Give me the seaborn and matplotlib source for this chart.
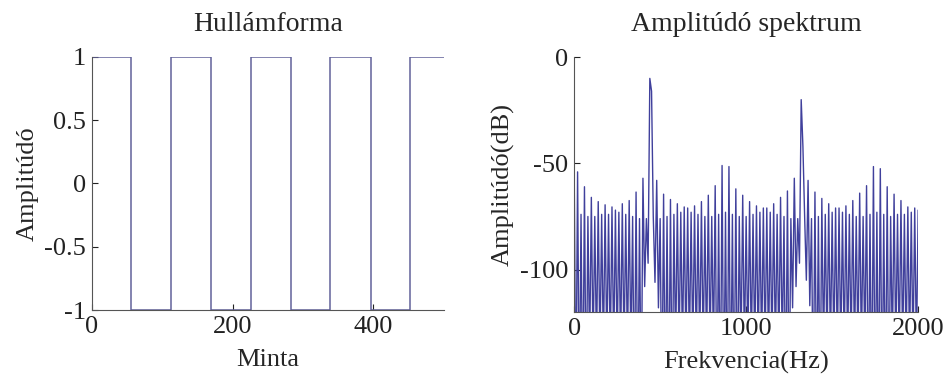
import numpy as np
import pandas as pd
import matplotlib
matplotlib.use("Agg")
import matplotlib.pyplot as plt
import seaborn as sns

# --- waveform: square wave, switching samples and levels
edge_samples = [0, 56, 112, 169, 226, 283, 339, 396, 452, 500]
levels = [1, -1, 1, -1, 1, -1, 1, -1, 1]

# --- spectrum: one spike per 20 Hz bin (0..2000 Hz), dB values
bin_hz = 20
spike_db = [
    -50, -54, -74, -61, -75, -66, -75, -68, -74, -69.5,
    -74, -70.5, -72, -73, -69, -74, -67.5, -75, -63.5, -76,
    -57, -76, -10, -75, -58, -76, -64.5, -75, -67, -74,
    -69, -73, -70.5, -71, -73, -70, -74, -68, -75, -65,
    -75, -60.5, -74, -51, -73, -51.5, -74, -62, -75, -65,
    -75, -68, -74, -70, -73, -71, -71, -73, -69, -74,
    -66, -75, -63, -76, -57, -76, -20, -75, -58, -76,
    -63.5, -75, -66.5, -74, -69, -73, -71, -71, -73, -70,
    -74, -67.5, -75, -64, -75, -60.5, -74, -51.5, -73, -52.5,
    -74, -61, -75, -64.5, -74, -67.5, -74, -70.5, -73, -71,
    -72,
]
# dips between neighbouring bins (at bin + 10 Hz); most fall far below the -120 floor
trough_db = [
    -170, -170, -170, -170, -140, -140, -140, -140, -140, -140,
    -140, -140, -140, -140, -140, -140, -140, -170, -170, -170,
    -108, -97, -16, -106, -118, -170, -170, -170, -170, -140,
    -140, -140, -140, -140, -140, -140, -140, -140, -140, -140,
    -140, -170, -170, -170, -170, -170, -170, -170, -140, -140,
    -140, -140, -140, -140, -140, -140, -140, -140, -140, -140,
    -140, -170, -170, -118, -108, -97, -42, -105, -117, -170,
    -170, -170, -140, -140, -140, -140, -140, -140, -140, -140,
    -140, -140, -140, -140, -140, -170, -170, -170, -170, -170,
    -170, -170, -140, -140, -140, -140, -140, -140, -140, -140,
]

# square wave as a stepped polyline
wave_x, wave_y = [], []
for i, lev in enumerate(levels):
    wave_x += [edge_samples[i], edge_samples[i + 1]]
    wave_y += [lev, lev]
wave = pd.DataFrame({"Minta": wave_x, "Amp": wave_y})

# interleave spikes and dips
spec_db = []
for i, s in enumerate(spike_db):
    spec_db.append(s)
    if i < len(trough_db):
        spec_db.append(trough_db[i])
spec = pd.DataFrame({"f": np.arange(len(spec_db)) * bin_hz / 2, "db": spec_db})

sns.set_style("ticks")
plt.rcParams["font.family"] = ["Liberation Serif", "DejaVu Serif"]
plt.rcParams["axes.unicode_minus"] = False
plt.rcParams["xtick.direction"] = "in"
plt.rcParams["ytick.direction"] = "in"

fig = plt.figure(figsize=(9.49, 3.76), dpi=100)
ax1 = fig.add_axes([0.0966, 0.1755, 0.371, 0.673])
ax2 = fig.add_axes([0.605, 0.170, 0.3625, 0.678])

fs = 19
sns.lineplot(data=wave, x="Minta", y="Amp", ax=ax1, sort=False, estimator=None,
             color="#62629a", linewidth=1.1)
ax1.set_xlim(0, 500)
ax1.set_ylim(-1, 1)
ax1.set_xticks([0, 200, 400])
ax1.set_yticks([-1, -0.5, 0, 0.5, 1])
ax1.set_yticklabels(["-1", "-0.5", "0", "0.5", "1"])
ax1.set_title("Hullámforma", fontsize=20, pad=19)
ax1.set_xlabel("Minta", fontsize=fs, labelpad=8)
ax1.set_ylabel("Amplitúdó", fontsize=fs, labelpad=4)

sns.lineplot(data=spec, x="f", y="db", ax=ax2, sort=False, estimator=None,
             color="#40409c", linewidth=1.0)
ax2.set_xlim(0, 2000)
ax2.set_ylim(-120, 0)
ax2.set_xticks([0, 1000, 2000])
ax2.set_yticks([-100, -50, 0])
ax2.set_title("Amplitúdó spektrum", fontsize=20, pad=19)
ax2.set_xlabel("Frekvencia(Hz)", fontsize=fs, labelpad=8)
ax2.set_ylabel("Amplitúdó(dB)", fontsize=fs, labelpad=4)

for ax in (ax1, ax2):
    sns.despine(ax=ax)
    ax.tick_params(labelsize=fs, length=4, width=0.8, colors="#222222", pad=4)
    for sp in ("left", "bottom"):
        ax.spines[sp].set_color("#555555")
        ax.spines[sp].set_linewidth(0.8)

fig.savefig("out.png", dpi=100)
plt.close(fig)
